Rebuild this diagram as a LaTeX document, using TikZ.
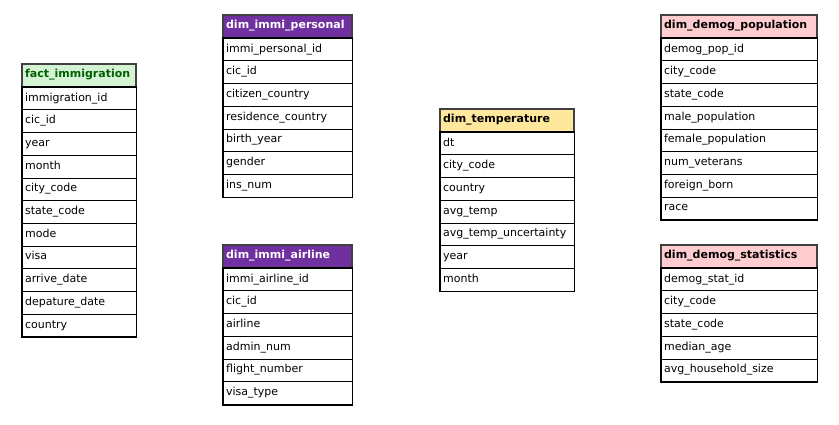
\documentclass[tikz,border=0pt]{standalone}
\usepackage{fontspec}
\setmainfont{DejaVu Sans}
\usepackage{xcolor}
\usetikzlibrary{matrix,fit,positioning}
\definecolor{factgreen}{HTML}{D4F2D4}
\definecolor{factdark}{HTML}{006000}
\definecolor{immipurple}{HTML}{7030A0}
\definecolor{tempyellow}{HTML}{FFE89C}
\definecolor{demogpink}{HTML}{FFCCD0}
\tikzset{
  cell/.style={draw,line width=1pt,minimum height=22.7pt,inner sep=3pt,
    text height=8pt,text depth=3pt,align=left,font=\fontsize{11}{13}\selectfont},
  tbl/.style={matrix of nodes,anchor=north west,inner sep=0pt,row sep=-1pt,
    nodes={cell,text width=#1}},
  head/.style={fill=#1,draw=black!75,line width=1.8pt,
    font=\fontsize{11}{13}\selectfont\bfseries},
  frame/.style={draw,line width=1.6pt,inner sep=0pt},
}

\begin{document}
\begin{tikzpicture}[x=1pt,y=-1pt]
    \useasboundingbox (0,0) rectangle (839,424);
    % fact table
    \matrix (fact) [tbl=108pt,at={(21,63)}] {
      |[head=factgreen,text=factdark]| fact\_immigration \\
      immigration\_id \\
      cic\_id \\
      year \\
      month \\
      city\_code \\
      state\_code \\
      mode \\
      visa \\
      arrive\_date \\
      depature\_date \\
      country \\
    };
    \node[frame,fit=(fact-2-1)(fact-12-1)] (factbox) {};
    % immigration dimensions
    \matrix (personal) [tbl=123pt,at={(222,14)}] {
      |[head=immipurple,text=white]| dim\_immi\_personal \\
      immi\_personal\_id \\
      cic\_id \\
      citizen\_country \\
      residence\_country \\
      birth\_year \\
      gender \\
      ins\_num \\
    };
    \node[frame,fit=(personal-2-1)(personal-8-1)] (personalbox) {};
    \matrix (airline) [tbl=123pt,at={(222,244)}] {
      |[head=immipurple,text=white]| dim\_immi\_airline \\
      immi\_airline\_id \\
      cic\_id \\
      airline \\
      admin\_num \\
      flight\_number \\
      visa\_type \\
    };
    \node[frame,fit=(airline-2-1)(airline-7-1)] (airlinebox) {};
    % temperature
    \matrix (temp) [tbl=128pt,at={(439,108)}] {
      |[head=tempyellow]| dim\_temperature \\
      dt \\
      city\_code \\
      country \\
      avg\_temp \\
      avg\_temp\_uncertainty \\
      year \\
      month \\
    };
    \node[frame,fit=(temp-2-1)(temp-8-1)] (tempbox) {};
    % demographics
    \matrix (pop) [tbl=150pt,at={(660,14)}] {
      |[head=demogpink]| dim\_demog\_population \\
      demog\_pop\_id \\
      city\_code \\
      state\_code \\
      male\_population \\
      female\_population \\
      num\_veterans \\
      foreign\_born \\
      race \\
    };
    \node[frame,fit=(pop-2-1)(pop-9-1)] (popbox) {};
    \matrix (stat) [tbl=150pt,at={(660,244)}] {
      |[head=demogpink]| dim\_demog\_statistics \\
      demog\_stat\_id \\
      city\_code \\
      state\_code \\
      median\_age \\
      avg\_household\_size \\
    };
    \node[frame,fit=(stat-2-1)(stat-6-1)] (statbox) {};
\end{tikzpicture}
\end{document}
